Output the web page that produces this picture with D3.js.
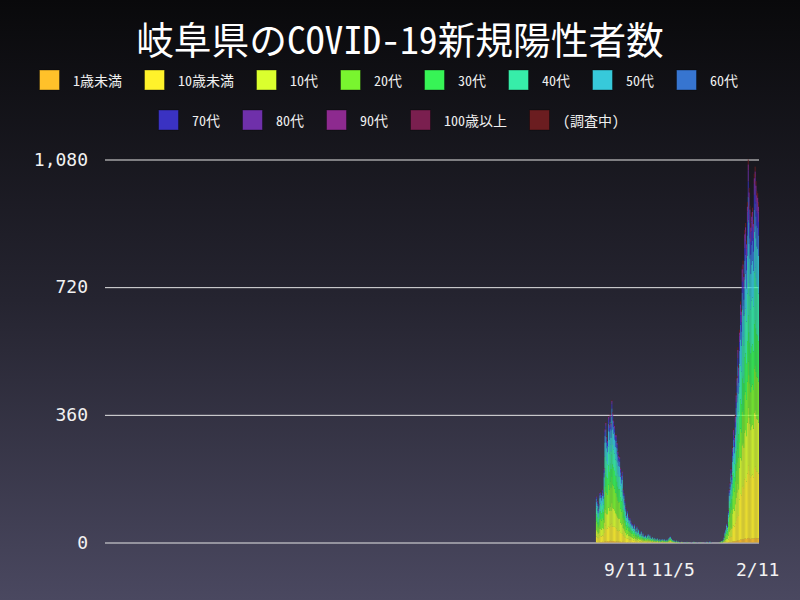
<!DOCTYPE html>
<html>
<head>
<meta charset="utf-8">
<script src="https://cdn.jsdelivr.net/npm/d3@7"></script>
<style>
  html, body { margin: 0; padding: 0; background: #000; }
  svg { display: block; }
</style>
</head>
<body>
<svg id="chart" width="800" height="600"></svg>
<script>
// ---------------- DATA ----------------
const chartTitle = "岐阜県のCOVID-19新規陽性者数";
const ageGroups = ["1歳未満","10歳未満","10代","20代","30代","40代","50代","60代","70代","80代","90代","100歳以上","(調査中)"];
const axisStartDate = "2020-01-16";   // first day of the time axis
const axisEndDate = "2022-02-12";     // day after the last day
const firstDataDate = "2021-08-07";   // date of the first value in every series
const yTicks = [0, 360, 720, 1080];
const xTickDates = ["2021-09-11", "2021-11-05", "2022-02-11"];
const xTickLabels = ["9/11", "11/5", "2/11"];

// daily counts per age group, from firstDataDate onwards (189 days)
const age0 = [1,0,1,0,2,1,1,2,1,2, 3,4,2,3,4,3,5,3,4,4, 3,4,2,3,3,2,3,2,2,1, 2,2,1,1,1,0,1,1,0,1,
  1,0,1,0,1,0,0,1,0,0, 0,0,1,0,0,0,0,0,0,1, 0,0,0,0,0,1,0,0,0,0, 0,0,0,0,0,0,0,1,0,0, 0,0,0,0,0,1,0,0,0,0,
  0,0,0,0,0,0,0,0,0,0, 0,0,0,0,0,0,0,0,0,0, 0,0,0,0,0,0,0,0,0,0, 0,0,0,0,0,0,0,0,0,0, 0,0,0,0,0,0,0,0,0,0,
  0,0,0,0,0,0,0,0,0,0, 0,0,0,1,1,1,1,1,3,3, 3,4,4,5,6,5,7,8,8,9, 10,9,11,11,10,12,13,12,11,10, 11,11,11,12,13,12,12,12,12];
const age1 = [16,14,11,13,17,17,16,18,17,25, 35,44,36,37,42,40,46,41,50,41, 41,40,39,37,31,31,29,32,25,23, 24,18,17,14,12,10,11,9,8,8,
  7,7,6,5,6,5,4,5,4,5, 3,3,4,3,3,2,2,3,2,2, 3,2,3,2,1,2,1,2,1,1, 1,2,0,1,1,1,1,1,0,1, 1,1,0,1,2,2,2,1,1,0,
  1,0,0,1,0,0,0,0,0,1, 0,0,0,0,0,0,0,0,0,0, 0,0,0,0,0,0,0,0,0,0, 0,0,0,0,0,0,0,0,0,0, 0,0,0,0,0,0,0,0,0,0,
  0,0,0,0,0,0,0,1,1,2, 3,4,4,7,12,14,17,15,38,45, 42,50,59,66,77,70,114,129,125,148, 151,144,167,171,162,182,205,190,181,174, 177,180,173,198,201,194,188,187,182];
const age2 = [18,17,13,15,20,20,19,21,20,29, 45,45,42,40,52,46,50,45,57,52, 51,47,42,40,40,36,34,34,29,27, 28,21,20,17,14,11,13,10,10,10,
  8,8,7,6,7,6,5,6,4,5, 4,4,4,3,4,3,3,3,2,3, 3,2,3,2,2,2,1,2,1,2, 1,2,1,2,0,1,1,2,1,1, 0,1,1,1,2,2,3,2,1,1,
  0,1,0,0,0,1,0,0,0,0, 0,0,0,0,0,0,0,0,0,0, 0,0,0,0,0,0,0,0,0,0, 0,0,0,0,0,0,0,0,0,0, 0,0,0,0,0,0,0,0,0,0,
  0,0,0,0,0,1,0,1,2,4, 5,7,6,11,18,20,25,23,41,48, 45,54,63,70,83,75,90,102,99,117, 119,114,132,135,128,144,162,150,143,133, 140,142,137,156,159,153,149,148,144];
const age3 = [25,22,18,21,27,28,26,28,27,40, 61,65,60,54,66,60,71,66,75,67, 65,61,57,59,54,49,47,46,40,36, 38,28,27,23,19,15,17,14,13,13,
  11,10,10,9,10,8,7,9,6,7, 5,5,6,4,5,4,3,4,3,4, 5,3,4,3,2,3,2,2,2,2, 2,2,2,2,1,2,1,2,2,2, 1,2,1,2,2,3,3,2,2,1,
  1,1,1,1,1,0,0,1,0,0, 1,0,0,0,0,0,1,0,0,0, 0,0,0,0,1,0,0,0,0,0, 0,0,0,0,0,0,0,0,0,1, 0,0,0,0,0,0,0,0,0,0,
  0,0,0,1,1,2,1,2,4,8, 11,15,13,25,42,48,59,53,49,58, 54,65,76,85,99,90,72,82,79,94, 95,91,106,108,102,115,130,120,114,107, 112,113,109,125,127,122,119,118,115];
const age4 = [20,18,14,17,21,22,20,23,21,32, 48,51,45,46,53,50,50,52,62,56, 51,50,48,47,43,39,37,36,32,29, 30,23,21,18,15,12,14,11,11,10,
  9,8,8,7,8,6,5,7,5,6, 4,4,5,3,4,3,3,3,2,3, 4,2,3,2,2,2,2,2,1,2, 1,2,1,1,1,2,2,1,1,1, 1,1,1,1,2,2,3,2,1,1,
  1,0,1,1,0,1,0,0,0,1, 0,0,0,0,0,1,0,0,0,0, 0,0,0,0,0,0,0,0,0,0, 0,1,0,0,0,0,0,0,0,0, 0,0,1,0,0,0,0,0,0,0,
  0,0,0,0,1,0,1,1,2,5, 6,9,8,14,24,27,34,30,35,42, 39,47,55,61,72,65,72,82,79,94, 95,91,106,108,102,115,130,120,114,109, 112,113,109,125,127,122,119,118,115];
const age5 = [19,18,15,16,21,21,21,22,21,31, 50,49,45,41,53,51,55,50,61,55, 52,49,46,45,44,38,37,35,32,28, 31,22,21,18,15,12,13,11,10,11,
  9,8,8,7,8,6,5,7,5,6, 4,4,5,3,4,3,3,3,2,3, 4,2,3,2,2,2,2,2,1,2, 1,2,1,2,1,1,1,1,1,2, 1,1,1,2,2,2,2,2,1,1,
  1,1,0,1,0,0,1,0,0,0, 0,0,0,0,0,0,0,0,0,0, 0,0,0,1,0,0,0,0,0,0, 0,0,0,0,0,0,0,0,0,0, 0,1,0,0,0,0,0,0,0,0,
  0,0,0,0,0,1,0,1,2,4, 5,7,6,12,20,22,27,25,35,42, 39,47,55,61,72,65,84,95,92,109, 111,106,123,126,119,134,151,140,133,124, 130,132,127,146,148,143,139,138,134];
const age6 = [16,14,11,13,17,17,16,18,17,25, 40,41,36,34,44,40,43,38,45,44, 43,40,36,37,34,31,29,29,25,23, 24,18,17,14,12,10,11,9,8,8,
  7,7,6,5,6,5,4,5,4,5, 3,3,4,3,3,2,2,3,2,2, 3,2,3,2,1,2,1,2,1,1, 1,1,1,1,1,1,1,1,1,1, 1,1,0,1,1,2,2,1,1,1,
  1,0,0,1,1,0,0,0,0,0, 0,0,1,0,0,0,0,0,0,0, 0,0,0,1,0,0,0,0,0,0, 0,0,0,0,0,0,0,0,1,0, 0,0,1,0,0,0,0,0,0,0,
  0,0,0,0,0,0,1,1,2,3, 4,6,5,9,15,17,21,19,27,32, 30,36,42,47,55,50,66,75,73,86, 87,84,97,99,94,106,119,110,105,100, 102,104,100,114,117,112,109,108,106];
const age7 = [8,7,6,7,8,9,8,9,8,13, 19,20,16,17,21,23,21,21,24,25, 20,20,18,19,17,16,15,14,13,11, 12,9,8,7,6,5,5,5,4,4,
  4,3,3,3,3,2,2,3,2,2, 2,2,2,1,2,1,1,1,1,1, 1,1,1,1,1,1,0,1,0,1, 1,0,1,0,1,1,0,1,0,1, 0,1,1,0,1,1,1,1,0,0,
  1,1,0,0,0,1,0,0,0,0, 0,0,0,0,0,1,0,0,0,0, 0,0,0,0,0,0,0,1,0,0, 0,0,0,0,0,0,0,0,1,0, 0,1,0,0,0,0,0,0,0,0,
  0,0,0,0,0,0,0,0,1,2, 2,3,2,5,8,8,11,10,16,19, 18,22,25,28,33,30,36,41,40,47, 48,46,53,54,51,58,65,60,57,55, 56,57,55,62,64,61,59,59,58];
const age8 = [4,4,3,3,4,4,4,5,4,6, 10,10,9,9,11,10,11,10,12,11, 10,10,9,9,9,8,7,7,6,6, 6,5,4,4,3,2,3,2,2,2,
  2,2,2,1,2,1,1,1,1,1, 1,1,1,1,1,1,1,1,0,1, 1,0,1,0,0,0,0,0,0,0, 0,1,0,0,0,0,1,0,0,0, 1,0,0,1,0,0,1,0,1,0,
  0,0,1,0,0,0,0,1,0,0, 0,0,0,0,0,0,0,0,0,0, 1,0,0,0,0,0,0,0,0,0, 0,0,0,0,0,0,1,0,0,0, 0,1,0,1,0,0,0,0,0,0,
  0,0,0,0,0,0,0,1,0,1, 1,2,2,3,4,5,6,6,11,13, 12,14,17,19,22,20,24,27,26,31, 32,30,35,36,34,38,43,40,38,36, 37,38,36,42,42,41,40,39,38];
const age9 = [2,2,1,2,2,2,2,2,2,3, 5,5,5,4,5,5,5,5,6,6, 5,5,5,5,4,4,4,4,3,3, 3,2,2,2,2,1,1,1,1,1,
  1,1,1,1,1,1,1,1,0,1, 1,0,0,0,1,0,0,0,0,0, 0,0,1,0,0,0,0,0,0,0, 0,0,0,1,0,0,0,0,1,0, 0,0,0,0,0,1,0,0,0,0,
  0,0,0,0,0,0,0,0,0,1, 0,0,0,0,0,0,0,0,0,0, 0,0,0,0,0,0,0,0,0,0, 0,0,0,0,0,0,0,0,0,0, 1,0,0,0,0,0,0,0,0,0,
  0,0,0,0,0,0,0,0,1,1, 1,1,1,2,3,3,4,4,8,10, 9,11,13,14,16,15,18,20,20,23, 24,23,26,27,26,29,32,30,29,27, 28,28,27,31,32,31,30,30,29];
const age10 = [1,1,1,1,1,1,1,1,1,2, 3,3,2,2,3,3,3,3,3,3, 3,3,2,2,2,2,2,2,2,2, 2,1,1,1,1,1,1,1,1,1,
  1,0,0,1,0,0,0,1,0,0, 0,0,0,1,0,0,0,0,0,0, 0,0,0,0,0,0,0,0,0,0, 0,0,0,0,0,0,0,0,0,0, 0,0,0,0,0,0,0,0,0,0,
  0,0,0,0,0,0,0,0,0,0, 0,0,0,0,0,0,0,0,0,0, 0,0,0,0,0,0,0,0,0,0, 0,0,0,0,0,0,0,0,0,0, 0,0,0,0,0,0,0,0,0,0,
  0,0,0,0,0,0,0,0,0,0, 1,0,0,1,1,2,2,2,4,5, 4,5,6,7,8,8,9,10,10,12, 12,11,13,14,13,14,16,15,14,13, 14,14,14,16,16,15,15,15,14];
const age11 = [0,0,0,0,0,0,0,0,0,0, 0,0,0,0,0,0,0,0,0,0, 0,0,0,0,0,0,0,0,0,0, 0,0,0,0,0,0,0,0,0,0,
  0,0,0,0,0,0,0,0,0,0, 0,0,0,0,0,0,0,0,0,0, 0,0,0,0,0,0,0,0,0,0, 0,0,0,0,0,0,0,0,0,0, 0,0,0,0,0,0,0,0,0,0,
  0,0,0,0,0,0,0,0,0,0, 0,0,0,0,0,0,0,0,0,0, 0,0,0,0,0,0,0,0,0,0, 0,0,0,0,0,0,0,0,0,0, 0,0,0,0,0,0,0,0,0,0,
  0,0,0,0,0,0,0,0,0,0, 0,0,0,0,0,0,0,0,0,0, 0,0,0,0,0,0,1,1,0,1, 1,0,1,1,1,1,1,1,0,1, 1,1,1,1,1,1,0,1,1];
const age12 = [1,1,1,1,1,1,1,1,1,1, 2,2,2,2,2,2,3,2,3,3, 2,2,2,2,2,2,2,2,1,1, 1,1,1,1,1,1,1,1,0,0,
  0,0,1,0,0,0,1,0,0,0, 0,0,0,0,0,0,0,0,0,0, 0,0,0,0,0,0,0,0,0,0, 0,0,0,0,0,0,0,0,0,0, 0,0,0,0,0,0,0,0,0,0,
  0,0,0,0,0,0,0,0,0,0, 0,0,0,0,0,0,0,0,0,0, 0,0,0,0,0,0,0,0,0,0, 0,0,0,0,0,0,0,0,0,0, 0,0,0,0,0,0,0,0,0,0,
  0,0,0,0,0,0,0,0,0,0, 1,1,1,1,2,3,3,2,4,5, 5,5,6,7,8,7,7,8,8,9, 10,9,11,11,10,12,13,12,11,11, 11,11,11,12,13,12,12,12,12];
const seriesValues = [age0,age1,age2,age3,age4,age5,age6,age7,age8,age9,age10,age11,age12];

// ---------------- STYLE ----------------
const groupColors = ["#FFC12A","#FFF22B","#DAFF2E","#79F52F","#37F456","#37EDA9","#37C9DA",
                     "#3775D0","#3A32C2","#6F30AA","#8D2A8F","#7A1F4F","#6B1D20"];
const cjkMono = "'Noto Sans Mono CJK JP','Noto Sans CJK JP',monospace";
const monoFont = "'DejaVu Sans Mono','Noto Sans Mono CJK JP',monospace";

// ---------------- DRAW ----------------
const svg = d3.select("#chart");
const W = 800, H = 600;
const defs = svg.append("defs");
const grad = defs.append("linearGradient").attr("id","bg").attr("x1",0).attr("y1",0).attr("x2",0).attr("y2",1);
grad.append("stop").attr("offset","0%").attr("stop-color","#09090b");
grad.append("stop").attr("offset","50%").attr("stop-color","#252430");
grad.append("stop").attr("offset","100%").attr("stop-color","#4a4860");
svg.append("rect").attr("width",W).attr("height",H).attr("fill","url(#bg)");

const parse = d3.utcParse("%Y-%m-%d");
const x = d3.scaleUtc().domain([parse(axisStartDate), parse(axisEndDate)]).range([105, 759]);
const y = d3.scaleLinear().domain([0, d3.max(yTicks)]).range([542.5, 159.5]);

// gridlines + y labels
const yAxis = d3.axisLeft(y).tickValues(yTicks).tickSize(-(759-105)).tickPadding(17).tickFormat(d3.format(","));
const gy = svg.append("g").attr("transform","translate(105,0)").call(yAxis);
gy.select(".domain").remove();
gy.selectAll(".tick line").attr("stroke","#e6e6e6").attr("stroke-width",1);
gy.selectAll(".tick text").attr("fill","#f2f2f2").attr("font-size",18).attr("font-family",monoFont);

// stacked bars
const start = parse(firstDataDate);
const nDays = age0.length;
const rows = d3.range(nDays).map(i => {
  const r = { date: d3.utcDay.offset(start, i) };
  ageGroups.forEach((g, k) => r[g] = seriesValues[k][i]);
  return r;
});
const stack = d3.stack().keys(ageGroups)(rows);
const gBars = svg.append("g");
stack.forEach((layer, k) => {
  gBars.append("g").attr("fill", groupColors[k])
    .selectAll("rect").data(layer.filter(d => d[1] > d[0])).join("rect")
    .attr("x", d => x(d.data.date))
    .attr("width", d => x(d3.utcDay.offset(d.data.date, 1)) - x(d.data.date))
    .attr("y", d => y(d[1]))
    .attr("height", d => y(d[0]) - y(d[1]));
});

// x labels
const xAxis = d3.axisBottom(x).tickValues(xTickDates.map(parse)).tickSize(0).tickPadding(0)
  .tickFormat((d, i) => xTickLabels[i]);
const gx = svg.append("g").attr("transform","translate(-1,563)").call(xAxis);
gx.select(".domain").remove();
gx.selectAll(".tick text").attr("fill","#f2f2f2").attr("font-size",18).attr("font-family",monoFont).attr("dy","0.71em");

// title
svg.append("text").attr("x",400).attr("y",54).attr("text-anchor","middle")
  .attr("fill","#ffffff").attr("font-size",37.7).attr("font-family",cjkMono).text(chartTitle);

// legend: two centred rows
const legendRows = [ageGroups.slice(0,8), ageGroups.slice(8)];
const rowY = [80, 120];
const sw = 20, gap = 13.5, pad = 22.5;
legendRows.forEach((items, r) => {
  const g = svg.append("g");
  const texts = items.map(t => g.append("text").attr("font-size",14).attr("font-family",cjkMono)
     .attr("fill","#f0f0f0").attr("dominant-baseline","central").text(t));
  const widths = texts.map(t => t.node().getComputedTextLength());
  const total = d3.sum(widths) + items.length * (sw + gap + pad);
  let cx = 400 - total / 2;
  items.forEach((t, i) => {
    const k = ageGroups.indexOf(t);
    g.append("rect").attr("x",cx).attr("y",rowY[r]-10).attr("width",sw).attr("height",sw)
      .attr("fill",groupColors[k]).attr("stroke","rgba(0,0,0,0.35)").attr("stroke-width",1);
    texts[i].attr("x", cx + sw + gap).attr("y", rowY[r]);
    cx += sw + gap + widths[i] + pad;
  });
});
</script>
</body>
</html>
